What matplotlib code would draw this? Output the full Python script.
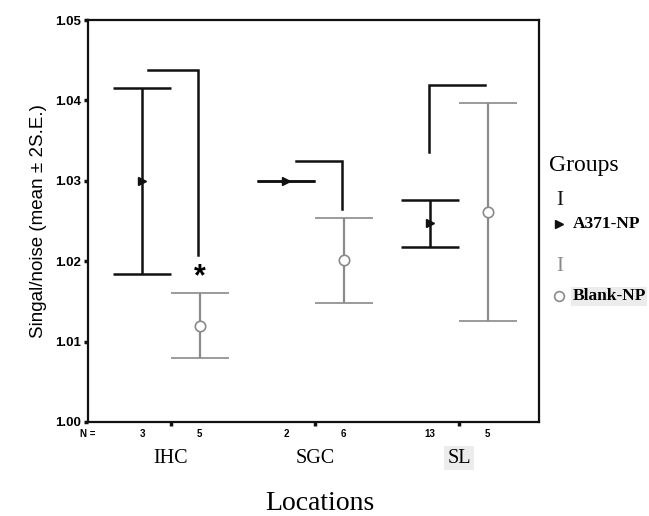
import numpy as np
import matplotlib
matplotlib.use("Agg")
import matplotlib.pyplot as plt
from matplotlib.lines import Line2D
from matplotlib.transforms import blended_transform_factory

# ---------------------------
# DATOS
# ---------------------------

locations = ["IHC", "SGC", "SL"]

a371_mean = [1.0300, 1.0300, 1.0247]
a371_err = [0.0116, 0.0000, 0.0029]
a371_n = ["3", "2", "13"]

blank_mean = [1.0120, 1.0201, 1.0261]
blank_err = [0.0040, 0.0053, 0.0136]
blank_n = ["5", "6", "5"]

# lineas raras en forma de L (tope, fondo) por ubicacion
bracket_top = [1.0438, 1.0325, 1.0419]
bracket_low = [1.0208, 1.0265, 1.0336]

star_y = 1.0180

# ---------------------------
# ESTILO
# ---------------------------

NEGRO = "#111111"
GRIS = "#8a8a8a"
OFF = 0.2
SANS = "Liberation Sans"
SERIF = "Liberation Serif"

fig = plt.figure(figsize=(6.49, 5.16), dpi=100)
ax = fig.add_axes([0.1356, 0.1822, 0.695, 0.779])

x = np.arange(1, len(locations) + 1)

ax.errorbar(x - OFF, a371_mean, yerr=a371_err, fmt=">", color=NEGRO,
            ms=6, ecolor=NEGRO, elinewidth=1.8, capsize=20.7, capthick=1.8,
            zorder=3)
ax.errorbar(x + OFF, blank_mean, yerr=blank_err, fmt="o", color=GRIS,
            mfc="white", mec=GRIS, mew=1.2, ms=7.5, ecolor=GRIS,
            elinewidth=1.6, capsize=20.7, capthick=1.6, zorder=3)

# brackets
bx = [(-0.158, 0.19, 0.19), (-0.132, 0.19, 0.19), (-0.208, 0.18, -0.208)]
for i, (x0, x1, xv) in enumerate(bx):
    c = x[i]
    if xv > 0:
        ax.plot([c + x0, c + x1, c + x1], [bracket_top[i], bracket_top[i], bracket_low[i]],
                color=NEGRO, lw=1.8, solid_joinstyle="miter")
    else:
        ax.plot([c + xv, c + xv, c + x1], [bracket_low[i], bracket_top[i], bracket_top[i]],
                color=NEGRO, lw=1.8, solid_joinstyle="miter")

ax.text(x[0] + OFF, star_y, "*", ha="center", va="center", fontsize=22,
        fontweight="bold", family=SANS)

ax.set_xlim(0.4236, 3.5556)
ax.set_ylim(1.00, 1.05)
ax.set_yticks([1.00, 1.01, 1.02, 1.03, 1.04, 1.05])
ax.set_yticklabels(["1.00", "1.01", "1.02", "1.03", "1.04", "1.05"],
                   fontsize=9.5, fontweight="bold", family=SANS)
ax.set_xticks(x)
ax.set_xticklabels([])
ax.tick_params(axis="both", direction="out", length=3, width=2.5, color=NEGRO,
               pad=2)
for s in ax.spines.values():
    s.set_linewidth(1.6)
    s.set_color(NEGRO)

ax.set_ylabel("Singal/noise (mean ± 2S.E.)", family=SANS, fontsize=13.5,
              labelpad=6)

# N labels y nombres de ubicaciones
tr = blended_transform_factory(ax.transData, ax.transAxes)
ax.text(0.4236, -0.03, "N =", transform=tr, ha="center", va="center",
        fontsize=7, fontweight="bold", family=SANS)
for i in range(len(locations)):
    ax.text(x[i] - OFF, -0.03, a371_n[i], transform=tr, ha="center",
            va="center", fontsize=7, fontweight="bold", family=SANS)
    ax.text(x[i] + OFF, -0.03, blank_n[i], transform=tr, ha="center",
            va="center", fontsize=7, fontweight="bold", family=SANS)
    bbox = dict(facecolor="#ececec", edgecolor="none", pad=2) if locations[i] == "SL" else None
    ax.text(x[i], -0.09, locations[i], transform=tr, ha="center", va="center",
            fontsize=14.5, family=SERIF, bbox=bbox)

fig.text(0.493, 0.025, "Locations", ha="center", va="center", fontsize=20,
         family=SERIF)

# leyenda manual
fig.text(0.846, 0.680, "Groups", ha="left", va="center", fontsize=17,
         family=SERIF)
fig.text(0.863, 0.612, "I", ha="center", va="center", fontsize=15,
         family=SERIF, color=NEGRO)
fig.add_artist(Line2D([0.862], [0.566], transform=fig.transFigure,
                      marker=">", color=NEGRO, ms=6, ls="none"))
fig.text(0.882, 0.566, "A371-NP", ha="left", va="center", fontsize=12.5,
         family=SERIF, fontweight="bold")
fig.text(0.863, 0.484, "I", ha="center", va="center", fontsize=15,
         family=SERIF, color=GRIS)
fig.add_artist(Line2D([0.862], [0.426], transform=fig.transFigure,
                      marker="o", mfc="white", mec=GRIS, mew=1.2, ms=7,
                      ls="none"))
fig.text(0.882, 0.426, "Blank-NP", ha="left", va="center", fontsize=12.5,
         family=SERIF, fontweight="bold",
         bbox=dict(facecolor="#ececec", edgecolor="none", pad=1))

fig.savefig("out.png", dpi=100)
